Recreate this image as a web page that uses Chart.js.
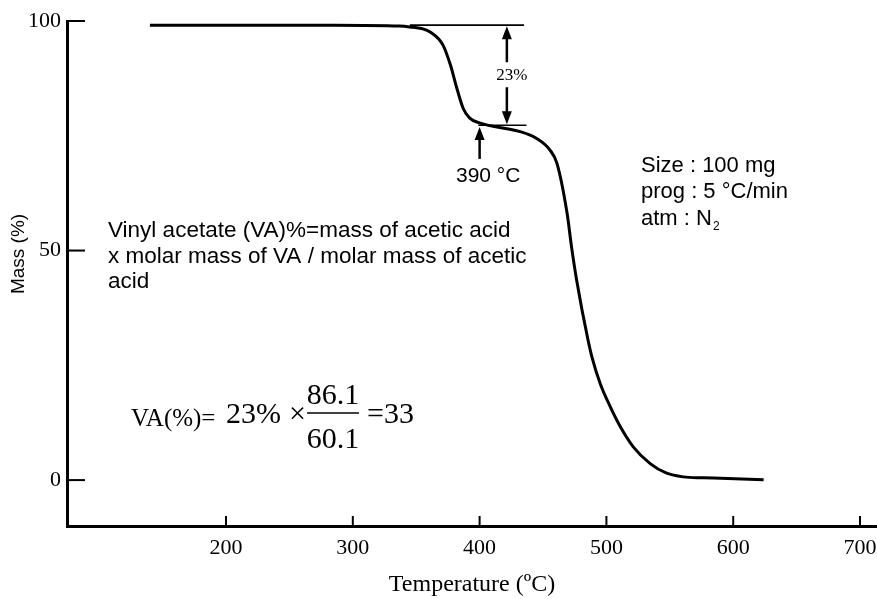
<!DOCTYPE html>
<html>
<head>
<meta charset="utf-8">
<style>
    html, body { margin: 0; padding: 0; background: #ffffff; }
    #wrap { width: 877px; height: 599px; position: relative; }
</style>
<script src="https://cdn.jsdelivr.net/npm/chart.js@4.4.1/dist/chart.umd.min.js"></script>
</head>
<body>
<div id="wrap"><canvas id="tgaChart"></canvas></div>
<script>
// TGA curve: temperature (°C) and remaining mass (%)
const temperatures = [140, 286, 337, 345, 355, 361, 371, 377, 382, 387, 392, 400, 432, 445, 455.5, 461, 469, 472.5, 476.5, 485.5, 488.5, 495, 503, 511, 521, 534.5, 547.5, 560.5, 576.5, 590, 624];
const massPercent = [99.1, 99.1, 98.9, 98.7, 98.3, 97.6, 94.8, 90.4, 85.4, 81.0, 78.9, 77.8, 75.9, 74.4, 71.9, 69.0, 58.1, 50.8, 43.6, 30.5, 26.9, 21.1, 16.0, 11.6, 7.3, 3.6, 1.5, 0.7, 0.5, 0.4, 0.1];

const xTickValues = [200, 300, 400, 500, 600, 700];
const yTickValues = [0, 50, 100];

// first step (acetic acid loss)
const stepTop = 99.1;
const stepBottom = 77.3;
const stepLabel = '23%';
const onsetTemp = 400;
const onsetLabel = '390 °C';

const serif = '"Liberation Serif", "Times New Roman", serif';
const sans = '"Liberation Sans", Arial, sans-serif';

function arrowHead(ctx, x, y, dir) {
    // dir: -1 points up, 1 points down
    ctx.beginPath();
    ctx.moveTo(x, y);
    ctx.lineTo(x - 5, y - dir * 13);
    ctx.lineTo(x + 5, y - dir * 13);
    ctx.closePath();
    ctx.fill();
}

const annotationsPlugin = {
    id: 'tgaAnnotations',
    afterDatasetsDraw(chart) {
        const { ctx } = chart;
        const xs = chart.scales.x;
        const ys = chart.scales.y;
        const px = (v) => xs.getPixelForValue(v);
        const py = (v) => ys.getPixelForValue(v);
        const left = chart.chartArea.left;
        const bottom = chart.chartArea.bottom;

        ctx.save();
        ctx.strokeStyle = '#000';
        ctx.fillStyle = '#000';
        ctx.lineCap = 'butt';

        // tick marks drawn inward
        ctx.lineWidth = 2;
        yTickValues.forEach((v) => {
            ctx.beginPath();
            ctx.moveTo(left, py(v));
            ctx.lineTo(left + 18, py(v));
            ctx.stroke();
        });
        xTickValues.forEach((v) => {
            ctx.beginPath();
            ctx.moveTo(px(v), bottom);
            ctx.lineTo(px(v), bottom - 10);
            ctx.stroke();
        });

        // y axis title
        ctx.save();
        ctx.translate(24, 254);
        ctx.rotate(-Math.PI / 2);
        ctx.font = '19px ' + sans;
        ctx.textAlign = 'center';
        ctx.textBaseline = 'alphabetic';
        ctx.fillText('Mass (%)', 0, 0);
        ctx.restore();

        // 23% step guide lines
        ctx.lineWidth = 1.6;
        ctx.beginPath();
        ctx.moveTo(px(345), py(stepTop));
        ctx.lineTo(px(435), py(stepTop));
        ctx.moveTo(px(399), py(stepBottom));
        ctx.lineTo(px(437), py(stepBottom));
        ctx.stroke();

        // double arrow with label
        const ax = px(421.5);
        const yTop = py(stepTop) + 1;
        const yBot = py(stepBottom) - 1;
        const yMid = (yTop + yBot) / 2;
        ctx.lineWidth = 2.5;
        ctx.beginPath();
        ctx.moveTo(ax, yTop + 10);
        ctx.lineTo(ax, yMid - 13);
        ctx.moveTo(ax, yMid + 12);
        ctx.lineTo(ax, yBot - 10);
        ctx.stroke();
        arrowHead(ctx, ax, yTop, -1);
        arrowHead(ctx, ax, yBot, 1);
        ctx.font = '17px ' + serif;
        ctx.textAlign = 'center';
        ctx.textBaseline = 'middle';
        ctx.fillText(stepLabel, ax + 5, yMid);

        // onset arrow
        const ox = px(onsetTemp);
        const oy = py(massPercent[11]) + 4;
        ctx.beginPath();
        ctx.moveTo(ox, oy + 10);
        ctx.lineTo(ox, oy + 32);
        ctx.stroke();
        arrowHead(ctx, ox, oy, -1);
        ctx.font = '21px ' + sans;
        ctx.textAlign = 'left';
        ctx.textBaseline = 'alphabetic';
        ctx.fillText(onsetLabel, 456, 182);

        // run conditions
        ctx.font = '22px ' + sans;
        ctx.fillText('Size : 100 mg', 641, 172);
        ctx.fillText('prog : 5 °C/min', 641, 198);
        ctx.fillText('atm : N', 641, 225);
        const nW = ctx.measureText('atm : N').width;
        ctx.font = '12px ' + sans;
        ctx.fillText('2', 641 + nW + 1, 230);

        // explanation
        ctx.font = '22.5px ' + sans;
        ctx.fillText('Vinyl acetate (VA)%=mass of acetic acid', 108, 237);
        ctx.fillText('x molar mass of VA / molar mass of acetic', 108, 263);
        ctx.fillText('acid', 108, 288);

        // formula
        ctx.font = '25px ' + serif;
        ctx.fillText('VA(%)=', 131, 426);
        ctx.font = '30px ' + serif;
        ctx.fillText('23%', 226, 423);
        ctx.fillText('×', 289, 423);
        ctx.textAlign = 'center';
        ctx.fillText('86.1', 333, 404);
        ctx.fillText('60.1', 333, 448);
        ctx.lineWidth = 1.5;
        ctx.beginPath();
        ctx.moveTo(307, 413);
        ctx.lineTo(359, 413);
        ctx.stroke();
        ctx.textAlign = 'left';
        ctx.fillText('=33', 367, 423);

        ctx.restore();
    },
};

const points = temperatures.map((t, i) => ({ x: t, y: massPercent[i] }));

new Chart(document.getElementById('tgaChart'), {
    type: 'line',
    data: {
        datasets: [
            {
                label: 'Mass',
                data: points,
                borderColor: '#000000',
                borderWidth: 3,
                pointRadius: 0,
                fill: false,
                cubicInterpolationMode: 'monotone',
            },
        ],
    },
    options: {
        responsive: true,
        maintainAspectRatio: false,
        animation: false,
        layout: { padding: { top: 21, right: 0, bottom: 0, left: 0 } },
        plugins: {
            legend: { display: false },
            tooltip: { enabled: false },
        },
        scales: {
            x: {
                type: 'linear',
                min: 74.6,
                max: 713.4,
                afterBuildTicks: (scale) => {
                    scale.ticks = xTickValues.map((v) => ({ value: v }));
                },
                afterFit: (scale) => {
                    scale.height = 73;
                    scale.paddingLeft = 0;
                    scale.paddingRight = 0;
                },
                grid: { display: false, drawTicks: false },
                border: { display: true, color: '#000000', width: 3 },
                ticks: {
                    color: '#000000',
                    padding: 9,
                    maxRotation: 0,
                    font: { family: serif, size: 22 },
                },
                title: {
                    display: true,
                    text: 'Temperature (ºC)',
                    color: '#000000',
                    padding: { top: 0, bottom: 0 },
                    font: { family: serif, size: 24 },
                },
            },
            y: {
                min: -10,
                max: 100,
                afterBuildTicks: (scale) => {
                    scale.ticks = yTickValues.map((v) => ({ value: v }));
                },
                afterFit: (scale) => {
                    scale.width = 67;
                },
                grid: { display: false, drawTicks: false },
                border: { display: true, color: '#000000', width: 3 },
                ticks: {
                    color: '#000000',
                    padding: 6,
                    font: { family: serif, size: 22 },
                },
            },
        },
    },
    plugins: [annotationsPlugin],
});
</script>
</body>
</html>
